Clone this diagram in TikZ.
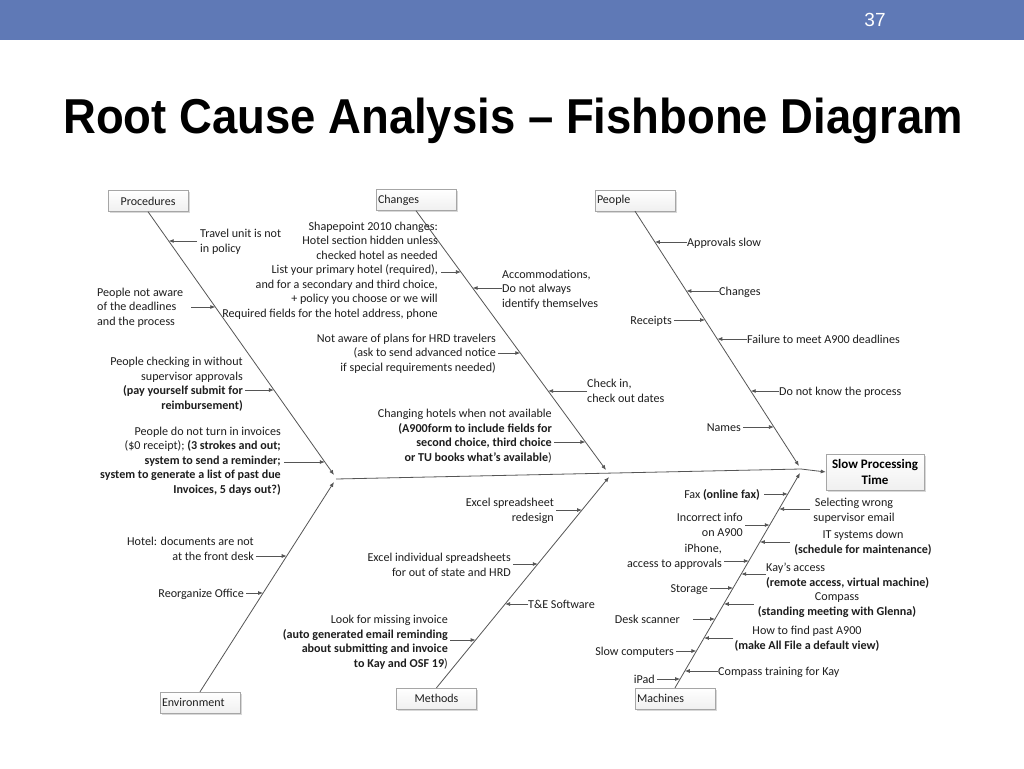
\documentclass[tikz,border=0pt]{standalone}
\usepackage{fontspec}
\usepackage{graphicx}
\setmainfont{Carlito}
\newfontfamily\titlefont{Liberation Sans}
\usetikzlibrary{calc,arrows.meta,shadows,intersections}
\definecolor{barblue}{RGB}{95,121,182}
\definecolor{bonegray}{RGB}{85,85,85}
\definecolor{txt}{RGB}{30,30,30}
% #1 label node, #2 bone path name, #3 arrow y, #4 anchor of label, #5 xshift of start
\newcommand\twig[5]{%
  \path[name path=h#1] (0,#3) -- (1024,#3);
  \path[name intersections={of=#2 and h#1, by={#1b}}];
  \path (#1.#4 |- #1b) coordinate (#1s);
  \draw[arr] ([xshift=#5pt]#1s) -- (#1b);}
\begin{document}
\begin{tikzpicture}[x=1pt,y=-1pt,
  lab/.style={inner sep=0pt, text=txt, font=\fontsize{12.1}{14.5}\selectfont},
  arr/.style={draw=bonegray, line width=0.8pt, -{Latex[length=5pt,width=4pt]}},
  bone/.style={draw=bonegray, line width=0.8pt},
  cat/.style={draw=gray!70, top color=white, bottom color=gray!12,
    drop shadow={shadow xshift=1.5pt, shadow yshift=-1.5pt, opacity=0.3, fill=gray},
    minimum height=21pt, inner xsep=2pt, inner ysep=0pt, text=txt,
    font=\fontsize{12}{14}\selectfont},
  catl/.style={cat, text width=76pt, align=left},
  catc/.style={cat, text width=76pt, align=center}]
\useasboundingbox (0,0) rectangle (1024,768);
\fill[white] (0,0) rectangle (1024,768);
\fill[barblue] (0,0) rectangle (1024,40);
\node[text=white, inner sep=0pt, font=\titlefont\fontsize{19}{22}\selectfont] (pg) at (875,20) {37};
\node[anchor=base west, inner sep=0pt, font=\titlefont\bfseries\fontsize{49}{55}\selectfont] (title) at (63,133)
  {\scalebox{0.928}[1]{Root Cause Analysis – Fishbone Diagram}};

% category boxes
\node[catc] (proc) at (148,201) {Procedures};
\node[catl] (chg) at (416,200) {Changes};
\node[catl] (ppl) at (635,200.5) {People};
\node[catl] (env) at (200,702.5) {Environment};
\node[catc] (meth) at (436.5,698.5) {Methods};
\node[catl] (mach) at (675,698.5) {Machines};
\node[draw=gray!70, top color=white, bottom color=gray!12,
    drop shadow={shadow xshift=1.5pt, shadow yshift=-1.5pt, opacity=0.3, fill=gray},
    minimum width=98pt, minimum height=36pt, inner sep=1pt, align=center, text=black,
    font=\bfseries\fontsize{13}{16}\selectfont] (effect) at (875,472) {Slow Processing\\Time};

% bone ends and spine
\coordinate (proE) at (334,475);
\coordinate (envE) at (334,482);
\coordinate (chgE) at (606,470);
\coordinate (meE) at (609,477);
\coordinate (ppE) at (799,466);
\coordinate (maE) at (800,473);
\coordinate (spL) at (336,479);
\coordinate (spR) at (801,469);
\draw[bone] (spL) -- (spR);
\draw[arr] (spR) -- (effect.west);
\draw[arr, name path=boneProc] (proc.south) -- (proE);
\draw[arr, name path=boneEnv] (env.north) -- (envE);
\draw[arr, name path=boneChg] (chg.south) -- (chgE);
\draw[arr, name path=boneMeth] (meth.north) -- (meE);
\draw[arr, name path=bonePpl] (ppl.south) -- (ppE);
\draw[arr, name path=boneMach] (mach.north) -- (maE);

% Procedures
\node[lab, anchor=base west, align=left] (pr1) at (200,252) {Travel unit is not\\in policy};
\twig{pr1}{boneProc}{241}{west}{-3}
\node[lab, anchor=base west, align=left] (pr2) at (97,325) {People not aware\\of the deadlines\\and the process};
\twig{pr2}{boneProc}{307}{east}{8}
\node[lab, anchor=base east, align=right] (pr3) at (243,409) {People checking in without\\supervisor approvals\\\textbf{(pay yourself submit for}\\\textbf{reimbursement)}};
\twig{pr3}{boneProc}{390}{east}{2}
\node[lab, anchor=base east, align=right] (pr4) at (281,493) {People do not turn in invoices\\(\$0 receipt); \textbf{(3 strokes and out;}\\\textbf{system to send a reminder;}\\\textbf{system to generate a list of past due}\\\textbf{Invoices, 5 days out?)}};
\twig{pr4}{boneProc}{462}{east}{3}

% Environment
\node[lab, anchor=base east, align=right] (en1) at (254,560) {Hotel: documents are not\\at the front desk};
\twig{en1}{boneEnv}{556}{east}{2}
\node[lab, anchor=base east, align=right] (en2) at (244,597) {Reorganize Office};
\twig{en2}{boneEnv}{593}{east}{2}

% Changes
\node[lab, anchor=base east, align=right] (ch1) at (438,317) {Shapepoint 2010 changes:\\Hotel section hidden unless\\checked hotel as needed\\List your primary hotel (required),\\and for a secondary and third choice,\\+ policy you choose or we will\\Required fields for the hotel address, phone};
\twig{ch1}{boneChg}{272}{east}{3}
\node[lab, anchor=base west, align=left] (ch2) at (502,307) {Accommodations,\\Do not always\\identify themselves};
\twig{ch2}{boneChg}{288}{west}{0}
\node[lab, anchor=base east, align=right] (ch3) at (496,371) {Not aware of plans for HRD travelers\\(ask to send advanced notice\\if special requirements needed)};
\twig{ch3}{boneChg}{353}{east}{2}
\node[lab, anchor=base west, align=left] (ch4) at (587,402) {Check in,\\check out dates};
\twig{ch4}{boneChg}{391}{west}{0}
\node[lab, anchor=base east, align=right] (ch5) at (552,461) {Changing hotels when not available\\\textbf{(A900form to include fields for}\\\textbf{second choice, third choice}\\\textbf{or TU books what’s available})};
\twig{ch5}{boneChg}{442}{east}{2}

% People
\node[lab, anchor=base west] (pe1) at (687,246) {Approvals slow};
\twig{pe1}{bonePpl}{242}{west}{0}
\node[lab, anchor=base west] (pe2) at (719,295) {Changes};
\twig{pe2}{bonePpl}{291}{west}{0}
\node[lab, anchor=base east] (pe3) at (672,324) {Receipts};
\twig{pe3}{bonePpl}{320}{east}{2}
\node[lab, anchor=base west] (pe4) at (747,343) {Failure to meet A900 deadlines};
\twig{pe4}{bonePpl}{339}{west}{0}
\node[lab, anchor=base west] (pe5) at (779,395) {Do not know the process};
\twig{pe5}{bonePpl}{391}{west}{0}
\node[lab, anchor=base east] (pe6) at (741,431) {Names};
\twig{pe6}{bonePpl}{427}{east}{2}

% Methods
\node[lab, anchor=base east, align=right] (me1) at (554,521) {Excel spreadsheet\\redesign};
\twig{me1}{boneMeth}{510}{east}{2}
\node[lab, anchor=base east, align=right] (me2) at (511,576) {Excel individual spreadsheets\\for out of state and HRD};
\twig{me2}{boneMeth}{564}{east}{2}
\node[lab, anchor=base west] (me3) at (528,608) {T\&E Software};
\twig{me3}{boneMeth}{604}{west}{0}
\node[lab, anchor=base east, align=right] (me4) at (448,667) {Look for missing invoice\\\textbf{(auto generated email reminding}\\\textbf{about submitting and invoice}\\\textbf{to Kay and OSF 19})};
\twig{me4}{boneMeth}{640}{east}{2}

% Machines
\node[lab, anchor=base east] (ma1) at (760,498) {Fax \textbf{(online fax)}};
\twig{ma1}{boneMach}{494}{east}{4}
\node[lab, anchor=base, align=center] (ma2) at (854,521) {Selecting wrong\\supervisor email};
\twig{ma2}{boneMach}{509}{west}{-3}
\node[lab, anchor=base east, align=right] (ma3) at (743,536) {Incorrect info\\on A900};
\twig{ma3}{boneMach}{525}{east}{2}
\node[lab, anchor=base, align=center] (ma4) at (863,553) {IT systems down\\\textbf{(schedule for maintenance)}};
\twig{ma4}{boneMach}{542}{west}{-4}
\node[lab, anchor=base east, align=right] (ma5) at (722,567) {iPhone,\\access to approvals};
\twig{ma5}{boneMach}{561}{east}{2}
\node[lab, anchor=base west, align=left] (ma6) at (766,586) {Kay’s access\\\textbf{(remote access, virtual machine)}};
\twig{ma6}{boneMach}{574}{west}{0}
\node[lab, anchor=base east] (ma7) at (708,592) {Storage};
\twig{ma7}{boneMach}{588}{east}{2}
\node[lab, anchor=base, align=center] (ma8) at (837,615) {Compass\\\textbf{(standing meeting with Glenna)}};
\twig{ma8}{boneMach}{604}{west}{-4}
\node[lab, anchor=base east] (ma9) at (680,623) {Desk scanner};
\twig{ma9}{boneMach}{619}{east}{13}
\node[lab, anchor=base, align=center] (ma10) at (807,649) {How to find past A900\\\textbf{(make All File a default view)}};
\twig{ma10}{boneMach}{638}{west}{-1}
\node[lab, anchor=base east] (ma11) at (674,655) {Slow computers};
\twig{ma11}{boneMach}{651}{east}{2}
\node[lab, anchor=base west] (ma12) at (718,675) {Compass training for Kay};
\twig{ma12}{boneMach}{671}{west}{0}
\node[lab, anchor=base east] (ma13) at (655,683) {iPad};
\twig{ma13}{boneMach}{679}{east}{2}
\end{tikzpicture}
\end{document}
